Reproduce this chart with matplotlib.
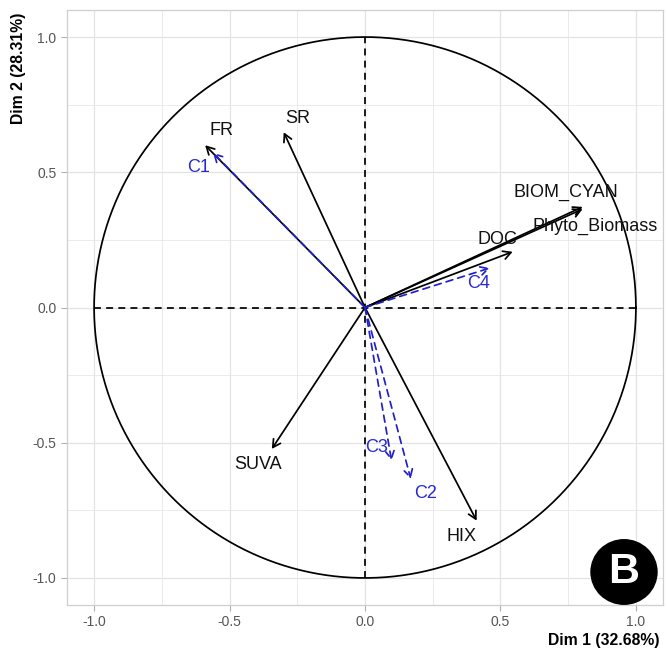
import numpy as np
import matplotlib
matplotlib.use("Agg")
import matplotlib.pyplot as plt
from matplotlib.patches import Circle

plt.rcParams['font.family'] = ['Liberation Sans', 'DejaVu Sans']
plt.rcParams['axes.unicode_minus'] = False

# Active variables: coordinates on Dim 1 / Dim 2
active_names = ["FR", "SR", "BIOM_CYAN", "Phyto_Biomass", "DOC", "SUVA", "HIX"]
active_dim1 = [-0.59, -0.30, 0.803, 0.803, 0.545, -0.344, 0.412]
active_dim2 = [0.60, 0.648, 0.372, 0.364, 0.206, -0.523, -0.788]

# Supplementary variables
supp_names = ["C1", "C2", "C3", "C4"]
supp_dim1 = [-0.561, 0.169, 0.098, 0.461]
supp_dim2 = [0.572, -0.634, -0.566, 0.146]

dim1_label = "Dim 1 (32.68%)"
dim2_label = "Dim 2 (28.31%)"

# label offsets from arrow tips (data units)
active_offsets = {
    "FR": (0.06, 0.056), "SR": (0.05, 0.05), "BIOM_CYAN": (-0.06, 0.055),
    "Phyto_Biomass": (0.046, -0.066), "DOC": (-0.055, 0.047),
    "SUVA": (-0.05, -0.056), "HIX": (-0.054, -0.06),
}
supp_offsets = {
    "C1": (-0.052, -0.053), "C2": (0.056, -0.052),
    "C3": (-0.057, 0.047), "C4": (-0.04, -0.056),
}

W, H = 667, 652
fig = plt.figure(figsize=(W / 100, H / 100), dpi=100)
ax = fig.add_axes([67 / W, 1 - 605 / H, (663 - 67) / W, (605 - 10) / H])

ax.set_xlim(-1.1, 1.1)
ax.set_ylim(-1.1, 1.1)
ax.set_aspect('auto')

# grid
for v in np.arange(-1.0, 1.01, 0.25):
    lw = 0.9 if abs(v * 2 - round(v * 2)) < 1e-9 else 0.5
    ax.axvline(v, color='#e3e3e3', lw=lw, zorder=0)
    ax.axhline(v, color='#e3e3e3', lw=lw, zorder=0)

ax.set_xticks([-1.0, -0.5, 0.0, 0.5, 1.0])
ax.set_yticks([-1.0, -0.5, 0.0, 0.5, 1.0])
ax.tick_params(colors='#b0b0b0', labelcolor='#555555', labelsize=10, length=4, width=0.8)
for s in ax.spines.values():
    s.set_color('#cfcfcf')
    s.set_linewidth(0.9)

# unit circle and axis lines
t = np.linspace(0, 2 * np.pi, 400)
ax.plot(np.cos(t), np.sin(t), color='black', lw=1.25, zorder=2)
ax.plot([-1, 1], [0, 0], color='black', lw=1.25, ls=(0, (4, 3)), zorder=2)
ax.plot([0, 0], [-1, 1], color='black', lw=1.25, ls=(0, (4, 3)), zorder=2)

arrow_kw = dict(arrowstyle='->,head_length=0.55,head_width=0.3', shrinkA=0, shrinkB=0)

for n, x, y in zip(active_names, active_dim1, active_dim2):
    ax.annotate('', xy=(x, y), xytext=(0, 0),
                arrowprops=dict(color='black', lw=1.25, **arrow_kw), zorder=3)
    dx, dy = active_offsets[n]
    ax.text(x + dx, y + dy, n, ha='center', va='center', fontsize=13, color='#111111', zorder=4)

for n, x, y in zip(supp_names, supp_dim1, supp_dim2):
    ax.annotate('', xy=(x, y), xytext=(0, 0),
                arrowprops=dict(color='#2020cc', lw=1.25, linestyle=(0, (4, 3)), **arrow_kw), zorder=3)
    dx, dy = supp_offsets[n]
    ax.text(x + dx, y + dy, n, ha='center', va='center', fontsize=13, color='#2a2ad0', zorder=4)

ax.set_xlabel(dim1_label, fontsize=11.3, fontweight='bold', loc='right', labelpad=4)
ax.set_ylabel(dim2_label, fontsize=11.3, fontweight='bold', loc='top', labelpad=4.5)
ax.xaxis.set_label_coords(1 - 3 / 596, -28 / 595)
ax.yaxis.label.set_y(1 - 3 / 595)

# panel badge
cx, cy, r = 624, H - 572, 33
badge = Circle((cx / W, cy / H), r / W, transform=fig.transFigure, color='black', zorder=10)
fig.patches.append(badge)
fig.text(cx / W, cy / H, "B", ha='center', va='center', color='white',
         fontsize=31, fontweight='bold', zorder=11)

fig.savefig("out.png", dpi=100)
